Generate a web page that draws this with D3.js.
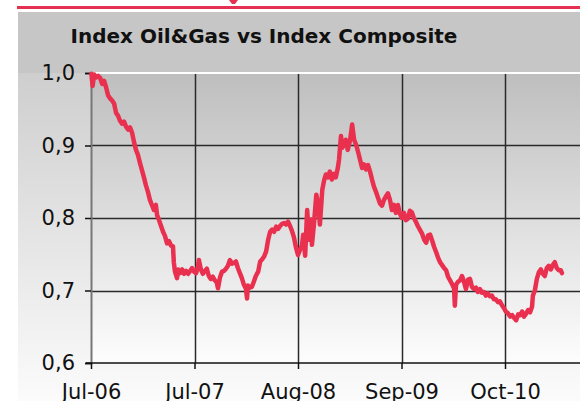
<!DOCTYPE html>
<html>
<head>
<meta charset="utf-8">
<script src="https://cdn.jsdelivr.net/npm/d3@7"></script>
<style>
  body { margin: 0; background: #fff; }
  svg { display: block; font-family: "DejaVu Sans", Verdana, sans-serif; }
</style>
</head>
<body>
<div id="chart"></div>
<script>
// trading-day index of each reading, and the index value
const days = [1, 4, 8, 13, 18, 23, 28, 33, 38, 43, 48, 53, 58, 63, 68, 73, 78, 83, 88, 93,
  98, 103, 108, 113, 118, 123, 128, 133, 138, 143, 148, 153, 158, 163, 166, 171, 176, 181, 186, 191,
  196, 201, 206, 208, 211, 216, 219, 224, 229, 234, 239, 244, 249, 254, 259, 264, 269, 271, 276, 281,
  286, 291, 296, 301, 306, 311, 316, 319, 324, 329, 334, 339, 344, 349, 354, 359, 364, 369, 374, 379,
  384, 389, 392, 394, 399, 404, 409, 414, 420, 425, 430, 435, 440, 445, 450, 455, 460, 465, 470, 475,
  480, 485, 490, 495, 500, 505, 510, 515, 520, 525, 530, 533, 538, 543, 548, 553, 555, 560, 566, 571,
  575, 581, 586, 590, 595, 600, 605, 610, 615, 620, 623, 628, 631, 636, 640, 645, 651, 656, 661, 666,
  671, 676, 681, 686, 691, 696, 701, 706, 711, 716, 721, 726, 731, 736, 741, 746, 751, 756, 761, 766,
  771, 776, 781, 786, 791, 796, 801, 806, 811, 816, 821, 826, 832, 837, 842, 847, 852, 857, 862, 867,
  872, 877, 882, 887, 892, 897, 902, 907, 912, 914, 917, 922, 927, 932, 937, 942, 947, 952, 957, 962,
  967, 972, 977, 982, 987, 992, 997, 1002, 1007, 1012, 1017, 1022, 1027, 1032, 1037, 1042, 1047, 1053, 1058, 1063,
  1068, 1073, 1078, 1083, 1088, 1093, 1098, 1103, 1108, 1110, 1115, 1120, 1125, 1130, 1135, 1140, 1145, 1150, 1155, 1160,
  1165, 1170, 1175, 1180, 1183];
const ratio = [0.999, 0.982, 0.998, 0.994, 0.996, 0.993, 0.985, 0.989, 0.980, 0.969, 0.965, 0.962, 0.958, 0.945, 0.941, 0.934, 0.930, 0.933, 0.926, 0.922,
  0.925, 0.918, 0.905, 0.894, 0.887, 0.876, 0.866, 0.856, 0.845, 0.836, 0.825, 0.818, 0.811, 0.818, 0.804, 0.797, 0.789, 0.781, 0.775, 0.765,
  0.768, 0.762, 0.761, 0.739, 0.726, 0.717, 0.729, 0.724, 0.729, 0.723, 0.727, 0.723, 0.727, 0.731, 0.726, 0.724, 0.734, 0.742, 0.729, 0.723,
  0.727, 0.730, 0.720, 0.716, 0.719, 0.714, 0.711, 0.703, 0.718, 0.726, 0.727, 0.730, 0.734, 0.742, 0.737, 0.738, 0.740, 0.731, 0.724, 0.717,
  0.708, 0.703, 0.689, 0.707, 0.704, 0.705, 0.712, 0.720, 0.726, 0.740, 0.743, 0.747, 0.754, 0.770, 0.781, 0.784, 0.781, 0.788, 0.785, 0.789,
  0.792, 0.793, 0.791, 0.795, 0.789, 0.782, 0.773, 0.759, 0.749, 0.756, 0.762, 0.777, 0.748, 0.811, 0.770, 0.798, 0.763, 0.791, 0.832, 0.818,
  0.791, 0.839, 0.853, 0.860, 0.856, 0.864, 0.853, 0.861, 0.856, 0.869, 0.880, 0.913, 0.897, 0.901, 0.908, 0.894, 0.908, 0.929, 0.908, 0.901,
  0.891, 0.880, 0.869, 0.874, 0.867, 0.873, 0.864, 0.853, 0.843, 0.836, 0.828, 0.820, 0.817, 0.825, 0.830, 0.834, 0.825, 0.811, 0.818, 0.807,
  0.818, 0.806, 0.800, 0.807, 0.797, 0.799, 0.810, 0.808, 0.800, 0.795, 0.789, 0.784, 0.778, 0.770, 0.766, 0.776, 0.777, 0.769, 0.760, 0.753,
  0.745, 0.739, 0.735, 0.731, 0.728, 0.719, 0.714, 0.709, 0.703, 0.679, 0.708, 0.712, 0.714, 0.720, 0.712, 0.702, 0.715, 0.716, 0.705, 0.702,
  0.704, 0.698, 0.702, 0.697, 0.698, 0.693, 0.696, 0.692, 0.693, 0.688, 0.688, 0.684, 0.685, 0.680, 0.676, 0.671, 0.669, 0.664, 0.666, 0.662,
  0.659, 0.667, 0.666, 0.671, 0.664, 0.668, 0.673, 0.670, 0.678, 0.693, 0.700, 0.716, 0.725, 0.729, 0.723, 0.720, 0.731, 0.734, 0.729, 0.735,
  0.739, 0.731, 0.728, 0.728, 0.724];

const xTickDays = [0, 260, 520, 780, 1040];
const xTickLabels = ['Jul-06', 'Jul-07', 'Aug-08', 'Sep-09', 'Oct-10'];
const yTicks = [0.6, 0.7, 0.8, 0.9, 1.0];
const title = 'Index Oil&Gas vs Index Composite';

const width = 580, height = 401;
const plot = { left: 91, top: 73, bottom: 363 };

const svg = d3.select('#chart').append('svg')
    .attr('width', width)
    .attr('height', height);

const defs = svg.append('defs');
const frameGrad = defs.append('linearGradient')
    .attr('id', 'frameGrad').attr('x1', 0).attr('y1', 0).attr('x2', 0).attr('y2', 1);
frameGrad.append('stop').attr('offset', '0%').attr('stop-color', '#c6c6c6');
frameGrad.append('stop').attr('offset', '100%').attr('stop-color', '#fbfbfb');
const plotGrad = defs.append('linearGradient')
    .attr('id', 'plotGrad').attr('x1', 0).attr('y1', 0).attr('x2', 0).attr('y2', 1);
plotGrad.append('stop').attr('offset', '0%').attr('stop-color', '#bebebe');
plotGrad.append('stop').attr('offset', '100%').attr('stop-color', '#fdfdfd');

// red rule at the top and the frame
svg.append('path')
    .attr('d', 'M229,0 L238,0 L235,4 L232,4 Z')
    .attr('fill', '#e6304f');
svg.append('line')
    .attr('x1', 17).attr('x2', width).attr('y1', 7.5).attr('y2', 7.5)
    .attr('stroke', '#e6304f').attr('stroke-width', 3);
svg.append('rect')
    .attr('x', 18).attr('y', 12)
    .attr('width', width - 18).attr('height', height - 12)
    .attr('fill', 'url(#frameGrad)');
svg.append('rect')
    .attr('x', 18).attr('y', 12)
    .attr('width', width - 18).attr('height', plot.top - 12)
    .attr('fill', '#c6c6c6');

svg.append('text')
    .attr('x', 264).attr('y', 43)
    .attr('text-anchor', 'middle')
    .attr('font-size', 20)
    .attr('font-weight', 'bold')
    .attr('fill', '#111')
    .text(title);

const x = d3.scaleLinear().domain([0, 1040]).range([plot.left, 505]);
const y = d3.scaleLinear().domain([0.6, 1.0]).range([plot.bottom, plot.top]);

svg.append('rect')
    .attr('x', plot.left).attr('y', plot.top)
    .attr('width', width - plot.left).attr('height', plot.bottom - plot.top)
    .attr('fill', 'url(#plotGrad)');

// grid
svg.append('g')
    .selectAll('line')
    .data(yTicks.filter(d => d > 0.6 && d < 1.0))
    .enter()
    .append('line')
    .attr('x1', plot.left).attr('x2', width)
    .attr('y1', d => Math.round(y(d)) + 0.5).attr('y2', d => Math.round(y(d)) + 0.5)
    .attr('stroke', '#2a2a2a').attr('stroke-width', 1.5);

svg.append('g')
    .selectAll('line')
    .data(xTickDays.slice(1))
    .enter()
    .append('line')
    .attr('x1', d => Math.round(x(d)) + 0.5).attr('x2', d => Math.round(x(d)) + 0.5)
    .attr('y1', plot.top).attr('y2', plot.bottom)
    .attr('stroke', '#2a2a2a').attr('stroke-width', 1.5);

svg.append('line')
    .attr('x1', plot.left).attr('x2', width)
    .attr('y1', plot.top).attr('y2', plot.top)
    .attr('stroke', '#fff').attr('stroke-width', 2);

// axes
const yAxis = d3.axisLeft(y)
    .tickValues(yTicks)
    .tickSize(6)
    .tickPadding(10)
    .tickFormat(d => d3.format('.1f')(d).replace('.', ','));
const gy = svg.append('g')
    .attr('transform', `translate(${plot.left},0)`)
    .call(yAxis);
gy.select('.domain').attr('stroke', '#777').attr('stroke-width', 2);
gy.selectAll('.tick line').attr('stroke', '#111').attr('stroke-width', 1.5);
gy.selectAll('.tick text')
    .attr('font-size', 21)
    .attr('font-family', '"DejaVu Sans", Verdana, sans-serif')
    .attr('fill', '#111');

const xAxis = d3.axisBottom(x)
    .tickValues(xTickDays)
    .tickSize(6)
    .tickPadding(15)
    .tickFormat((d, i) => xTickLabels[i]);
const gx = svg.append('g')
    .attr('transform', `translate(0,${plot.bottom})`)
    .call(xAxis);
gx.select('.domain').remove();
gx.append('line')
    .attr('x1', plot.left - 5).attr('x2', width)
    .attr('stroke', '#111').attr('stroke-width', 1.5);
gx.selectAll('.tick line').attr('stroke', '#111').attr('stroke-width', 1.5);
gx.selectAll('.tick text')
    .attr('font-size', 21)
    .attr('font-family', '"DejaVu Sans", Verdana, sans-serif')
    .attr('fill', '#111');

// series
const line = d3.line()
    .x((d, i) => x(days[i]))
    .y(d => y(d));

svg.append('path')
    .datum(ratio)
    .attr('d', line)
    .attr('fill', 'none')
    .attr('stroke', '#e9304f')
    .attr('stroke-width', 4.5)
    .attr('stroke-linejoin', 'round')
    .attr('stroke-linecap', 'round');
</script>
</body>
</html>
